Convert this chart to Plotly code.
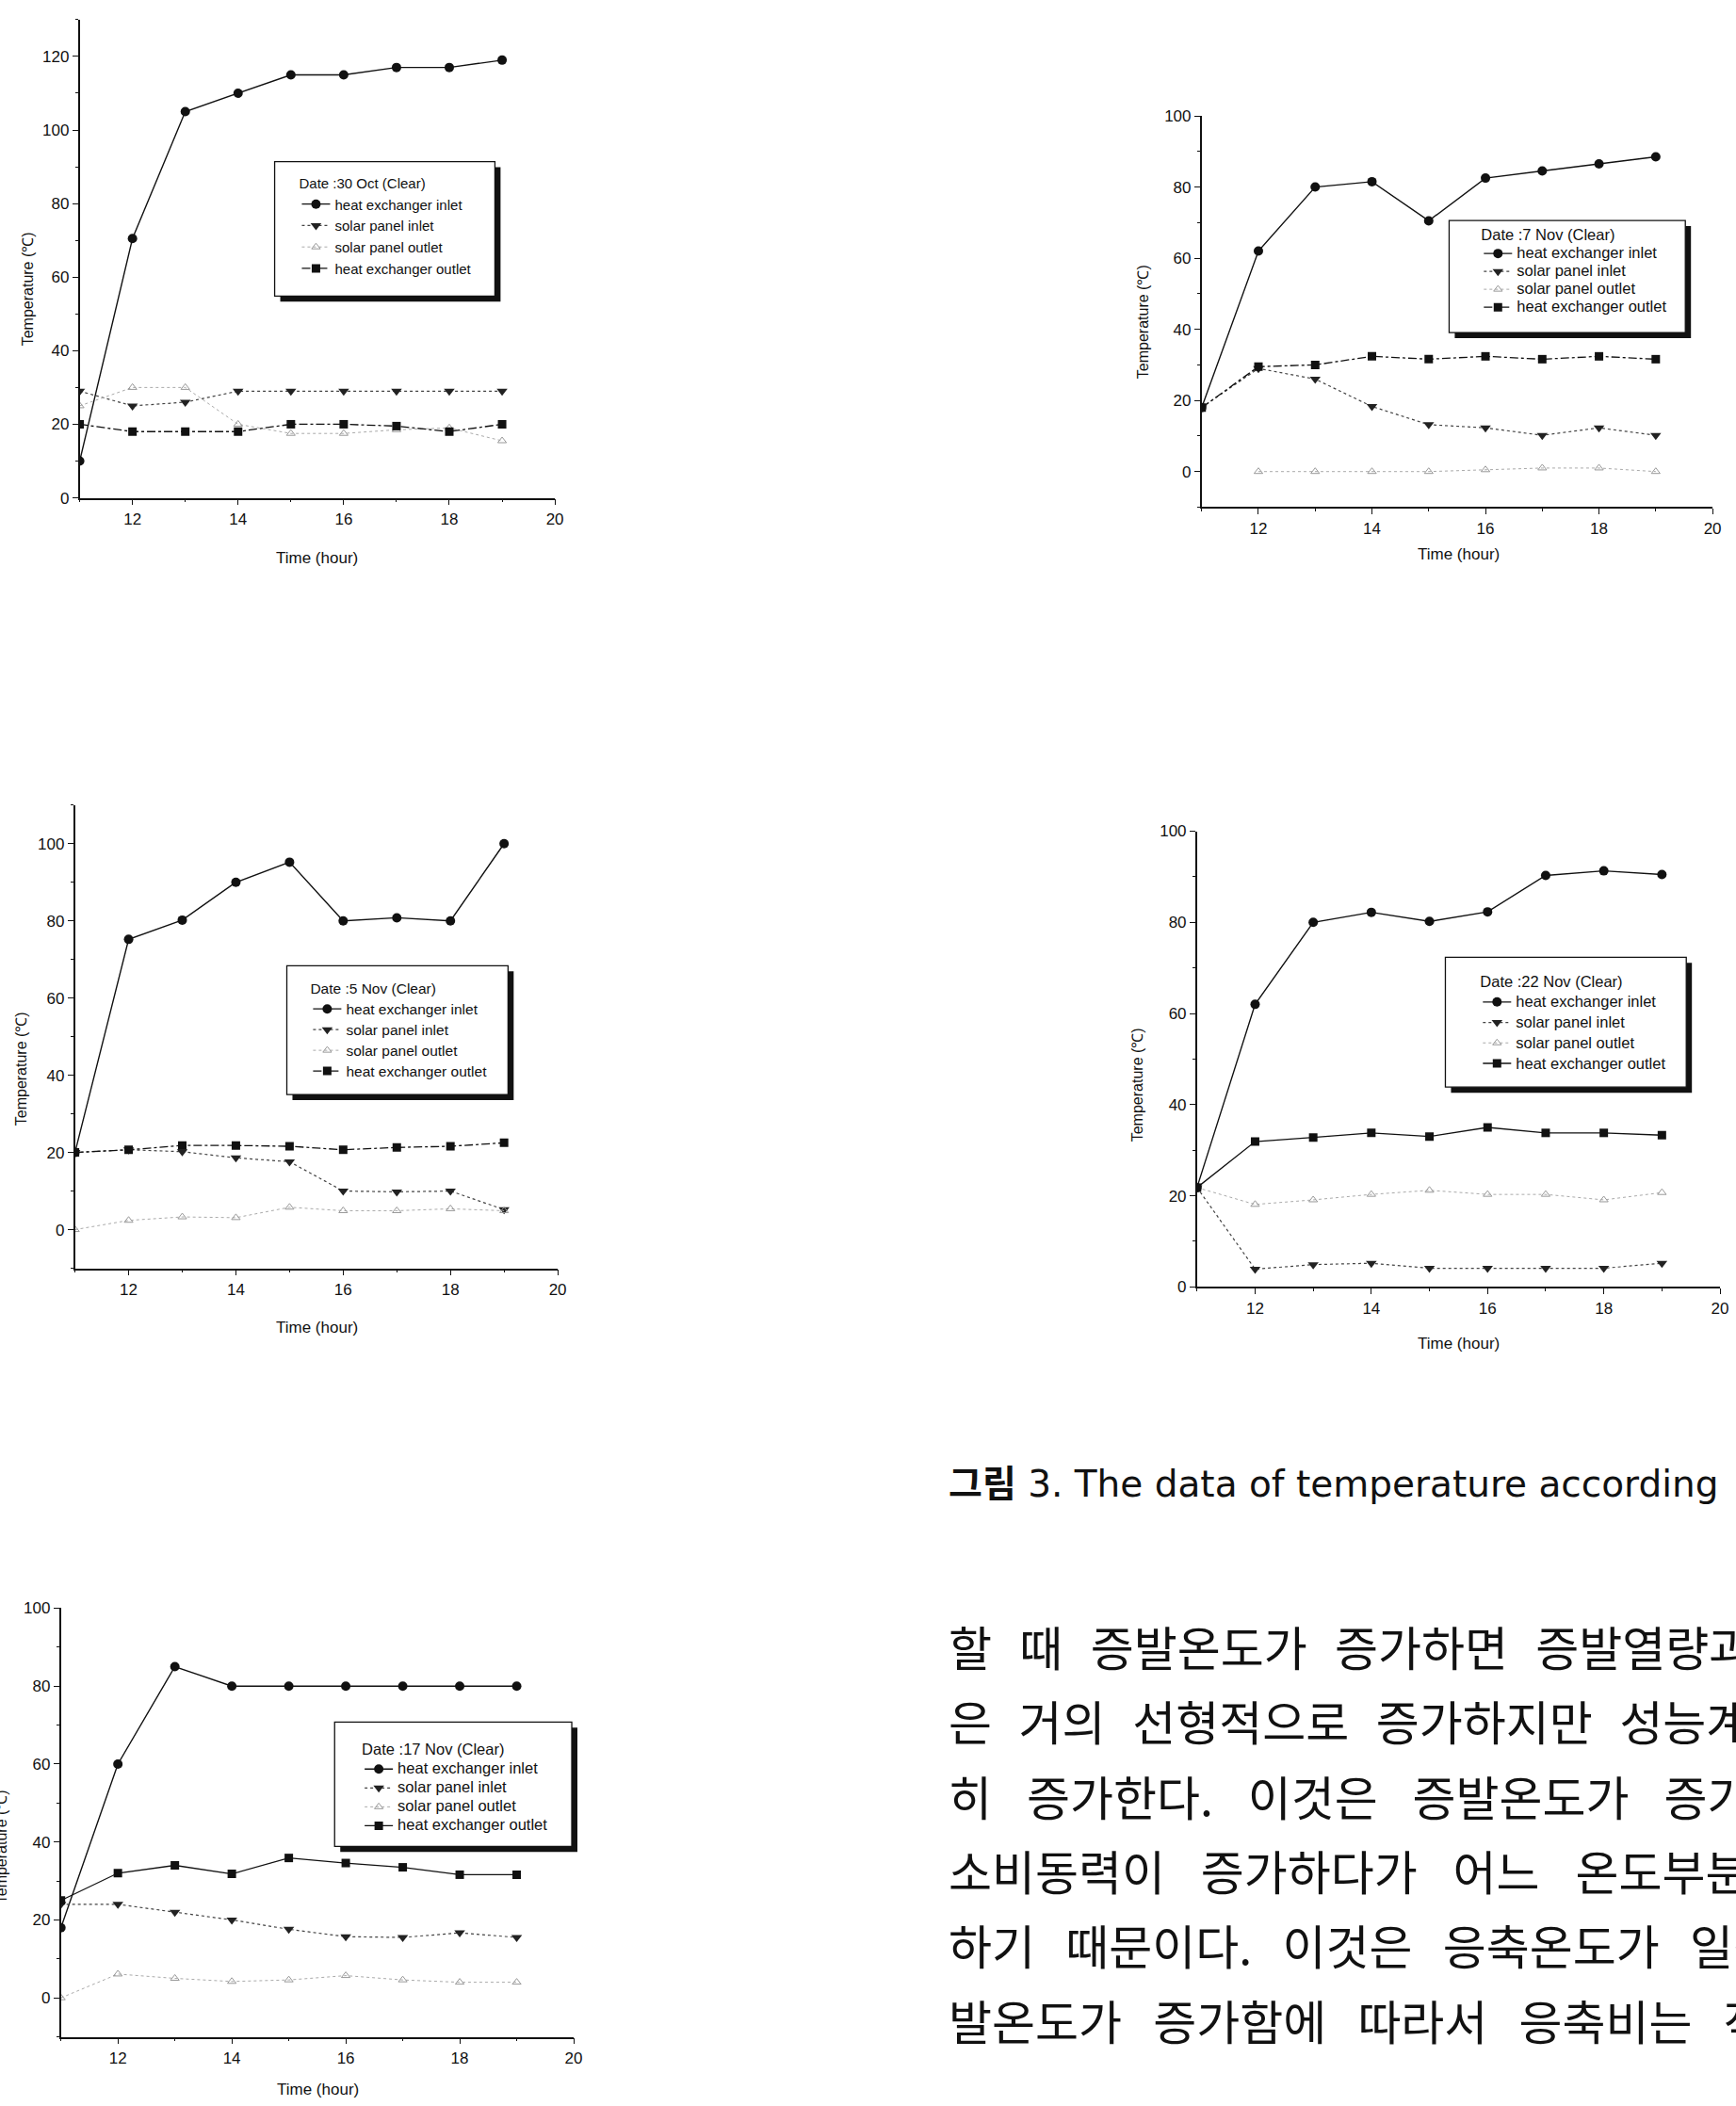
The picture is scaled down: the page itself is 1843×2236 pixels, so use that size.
import plotly.graph_objects as go

W, H = 1843, 2236

# ---------------- data ----------------
hours = [11, 12, 13, 14, 15, 16, 17, 18, 19]
series_names = ["heat exchanger inlet", "solar panel inlet", "solar panel outlet", "heat exchanger outlet"]

# 30 Oct (Clear)
oct30_hx_inlet = [10, 70.5, 105, 110, 115, 115, 117, 117, 119]
oct30_sp_inlet = [29, 25, 26, 29, 29, 29, 29, 29, 29]
oct30_sp_outlet = [25, 30, 30, 20, 17.5, 17.5, 18.5, 19, 15.5]
oct30_hx_outlet = [20, 18, 18, 18, 20, 20, 19.5, 18, 20]

# 7 Nov (Clear)
nov7_hx_inlet = [18, 62, 80, 81.5, 70.5, 82.5, 84.5, 86.5, 88.5]
nov7_sp_inlet = [18, 29, 26, 18.3, 13.2, 12.3, 10.2, 12.3, 10.2]
nov7_sp_outlet = [None, 0, 0, 0, 0, 0.5, 1, 1, 0]
nov7_hx_outlet = [18, 29.5, 30, 32.4, 31.6, 32.4, 31.6, 32.4, 31.6]

# 5 Nov (Clear)
nov5_hx_inlet = [20, 75.2, 80.2, 90, 95.2, 80, 80.8, 80, 100]
nov5_sp_inlet = [20, 20.7, 20.2, 18.6, 17.6, 10, 9.8, 10, 5.2]
nov5_sp_outlet = [0, 2.4, 3.3, 3.1, 5.8, 4.9, 4.9, 5.4, 4.9]
nov5_hx_outlet = [20, 20.7, 21.8, 21.8, 21.6, 20.7, 21.3, 21.6, 22.5]

# 22 Nov (Clear)
nov22_hx_inlet = [21.8, 62, 80, 82.2, 80.2, 82.3, 90.3, 91.3, 90.5]
nov22_sp_inlet = [21.8, 3.9, 4.9, 5.2, 4.1, 4.1, 4.1, 4.1, 5.2]
nov22_sp_outlet = [21.8, 18.1, 19.1, 20.3, 21.2, 20.3, 20.3, 19.1, 20.7]
nov22_hx_outlet = [21.8, 31.9, 32.8, 33.8, 33, 35, 33.8, 33.8, 33.3]

# 17 Nov (Clear)
nov17_hx_inlet = [18, 60, 85, 80, 80, 80, 80, 80, 80]
nov17_sp_inlet = [24, 24, 22, 20, 17.6, 15.7, 15.5, 16.7, 15.5]
nov17_sp_outlet = [0, 6.1, 5, 4.2, 4.6, 5.7, 4.6, 4, 4]
nov17_hx_outlet = [25, 32, 34, 31.8, 35.9, 34.6, 33.5, 31.6, 31.6]

legend_titles = ["Date :30 Oct (Clear)", "Date :7 Nov (Clear)", "Date :5 Nov (Clear)",
                 "Date :22 Nov (Clear)", "Date :17 Nov (Clear)"]
x_tick_labels = ["12", "14", "16", "18", "20"]
x_tick_values = [12, 14, 16, 18, 20]
x_title = "Time (hour)"
y_title = "Temperature (℃)"

caption_bold = "그림"
caption_rest = "3. The data of temperature according"
body_lines = [
    "할 때 증발온도가 증가하면 증발열량과",
    "은 거의 선형적으로 증가하지만 성능계",
    "히 증가한다. 이것은 증발온도가 증가",
    "소비동력이 증가하다가 어느 온도부분",
    "하기 때문이다. 이것은 응축온도가 일정",
    "발온도가 증가함에 따라서 응축비는 작",
]

panel_data = [
    [oct30_hx_inlet, oct30_sp_inlet, oct30_sp_outlet, oct30_hx_outlet],
    [nov7_hx_inlet, nov7_sp_inlet, nov7_sp_outlet, nov7_hx_outlet],
    [nov5_hx_inlet, nov5_sp_inlet, nov5_sp_outlet, nov5_hx_outlet],
    [nov22_hx_inlet, nov22_sp_inlet, nov22_sp_outlet, nov22_hx_outlet],
    [nov17_hx_inlet, nov17_sp_inlet, nov17_sp_outlet, nov17_hx_outlet],
]

# ---------------- layout geometry (pixels) ----------------
def fx(px):
    return px / W

def fy(py):
    return 1 - py / H

# lfont: legend font size (controls row spacing), tfont: visible text size
panels = [
    dict(xd=(85, 592), yd=(12, 524), yr=(0, 130), yt=[0, 20, 40, 60, 80, 100, 120],
         box=(293, 164, 528, 308), leg=(317, 173), lfont=15.2, tfont=15,
         ytitle=(30, 300), xtitle=(338, 588), hx_out_dash="dashdot"),
    dict(xd=(1282, 1827), yd=(115, 534), yr=(-10, 100), yt=[0, 20, 40, 60, 80, 100],
         box=(1546, 227, 1798, 347), leg=(1578, 232), lfont=12, tfont=16.5,
         ytitle=(1219, 336), xtitle=(1556, 584), hx_out_dash="dashdot"),
    dict(xd=(80, 595), yd=(853, 1349), yr=(-10, 110), yt=[0, 20, 40, 60, 80, 100],
         box=(306, 1025, 542, 1163), leg=(329, 1036), lfont=14.6, tfont=15.5,
         ytitle=(22, 1135), xtitle=(338, 1412), hx_out_dash="dashdot"),
    dict(xd=(1277, 1835), yd=(881, 1369), yr=(0, 100), yt=[0, 20, 40, 60, 80, 100],
         box=(1542, 1016, 1799, 1155), leg=(1577, 1029), lfont=14.4, tfont=16.5,
         ytitle=(1213, 1153), xtitle=(1556, 1430), hx_out_dash="solid"),
    dict(xd=(65, 612), yd=(1713, 2172), yr=(-10, 100), yt=[0, 20, 40, 60, 80, 100],
         box=(357, 1835, 610, 1968), leg=(384, 1853), lfont=13.1, tfont=16.5,
         ytitle=(1, 1968), xtitle=(339, 2228), hx_out_dash="solid"),
]

# word gaps (px) of the justified body text, one value per line
body_gaps = [31.8, 31.0, 40.0, 41.0, 35.0, 36.0]
BODY_SIZE = 50
NBSP_EM = 0.243

def make_gap(g):
    unit = NBSP_EM * BODY_SIZE
    n = int(g // unit)
    rem = g - n * unit
    s = "\u00a0" * n
    if rem > 1.5:
        s += f"<span style='font-size:{rem / NBSP_EM:.1f}px'>\u00a0</span>"
    return s

FONT = "Liberation Sans, Arial, sans-serif"

fig = go.Figure()
layout = dict(width=W, height=H, margin=dict(l=0, r=0, t=0, b=0),
              paper_bgcolor="white", plot_bgcolor="white", showlegend=True,
              font=dict(family=FONT, color="#111"))
shapes = []
annotations = []

for i, (p, vals) in enumerate(zip(panels, panel_data)):
    n = i + 1
    xa = "xaxis" if n == 1 else f"xaxis{n}"
    ya = "yaxis" if n == 1 else f"yaxis{n}"
    xr = "x" if n == 1 else f"x{n}"
    yr = "y" if n == 1 else f"y{n}"
    lg = "legend" if n == 1 else f"legend{n}"

    styles = [
        dict(line=dict(color="#111", width=1.4, dash="solid"),
             marker=dict(symbol="circle", size=10, color="#111")),
        dict(line=dict(color="#444", width=1.2, dash="dot"),
             marker=dict(symbol="triangle-down", size=10, color="#222")),
        dict(line=dict(color="#aaa", width=1.0, dash="dot"),
             marker=dict(symbol="triangle-up-open", size=8, color="#999",
                         line=dict(width=1, color="#999"))),
        dict(line=dict(color="#111", width=1.3, dash=p["hx_out_dash"]),
             marker=dict(symbol="square", size=9, color="#111")),
    ]
    for name, v, st in zip(series_names, vals, styles):
        shown = f"<span style='font-size:{p['tfont']}px'>{name}</span>"
        fig.add_trace(go.Scatter(x=hours, y=v, name=shown, mode="lines+markers",
                                 xaxis=xr, yaxis=yr, legend=lg, connectgaps=False,
                                 line=st["line"], marker=st["marker"]))

    layout[xa] = dict(domain=[fx(p["xd"][0]), fx(p["xd"][1])], anchor=yr, range=[11, 20],
                      tickvals=x_tick_values, ticktext=x_tick_labels,
                      showline=True, linecolor="#111", linewidth=1.6,
                      ticks="outside", ticklen=6, tickwidth=1.3, tickcolor="#111",
                      minor=dict(ticks="outside", ticklen=3, tickwidth=1, tickcolor="#111", dtick=1, tick0=11),
                      showgrid=False, zeroline=False,
                      tickfont=dict(family=FONT, size=17, color="#111"))
    layout[ya] = dict(domain=[fy(p["yd"][1]), fy(p["yd"][0])], anchor=xr, range=list(p["yr"]),
                      tickvals=p["yt"], showline=True, linecolor="#111", linewidth=1.6,
                      ticks="outside", ticklen=6, tickwidth=1.3, tickcolor="#111",
                      minor=dict(ticks="outside", ticklen=3, tickwidth=1, tickcolor="#111", dtick=10, tick0=0),
                      showgrid=False, zeroline=False,
                      tickfont=dict(family=FONT, size=17, color="#111"))
    layout[lg] = dict(title=dict(text=f"<span style='font-size:{p['tfont']}px'>{legend_titles[i]}</span>",
                                 font=dict(family=FONT, size=p["lfont"], color="#111")),
                      x=fx(p["leg"][0]), y=fy(p["leg"][1]), xanchor="left", yanchor="top",
                      bgcolor="rgba(0,0,0,0)", borderwidth=0,
                      font=dict(family=FONT, size=p["lfont"], color="#111"))

    bx0, by0, bx1, by1 = p["box"]
    shapes.append(dict(type="rect", xref="paper", yref="paper", layer="above",
                       x0=fx(bx0 + 6), x1=fx(bx1 + 6), y0=fy(by1 + 6), y1=fy(by0 + 6),
                       fillcolor="#111", line=dict(width=0)))
    shapes.append(dict(type="rect", xref="paper", yref="paper", layer="above",
                       x0=fx(bx0), x1=fx(bx1), y0=fy(by1), y1=fy(by0),
                       fillcolor="white", line=dict(color="#111", width=1.3)))

    annotations.append(dict(text=y_title, xref="paper", yref="paper",
                            x=fx(p["ytitle"][0]), y=fy(p["ytitle"][1]), textangle=-90,
                            showarrow=False, xanchor="center", yanchor="middle",
                            font=dict(family=FONT, size=16, color="#111")))
    annotations.append(dict(text=x_title, xref="paper", yref="paper",
                            x=fx(p["xtitle"][0]), y=fy(p["xtitle"][1]),
                            showarrow=False, xanchor="center", yanchor="middle",
                            font=dict(family=FONT, size=17, color="#111")))

annotations.append(dict(text=f"<b>{caption_bold}</b> {caption_rest}", xref="paper", yref="paper",
                        x=fx(1010), y=fy(1580), showarrow=False, xanchor="left", yanchor="middle",
                        font=dict(family="DejaVu Sans, Noto Sans CJK KR, sans-serif", size=39, color="#111")))
for k, (line, g) in enumerate(zip(body_lines, body_gaps)):
    annotations.append(dict(text=line.replace(" ", make_gap(g)), xref="paper", yref="paper",
                            x=fx(1010), y=fy(1753 + 80 * k), showarrow=False,
                            xanchor="left", yanchor="middle",
                            font=dict(family="Noto Sans CJK KR, sans-serif", size=BODY_SIZE, color="#111")))

layout["shapes"] = shapes
layout["annotations"] = annotations
fig.update_layout(**layout)

fig.write_html("out.html", config={"displayModeBar": False},
               post_script="document.body.style.margin='0px';")
